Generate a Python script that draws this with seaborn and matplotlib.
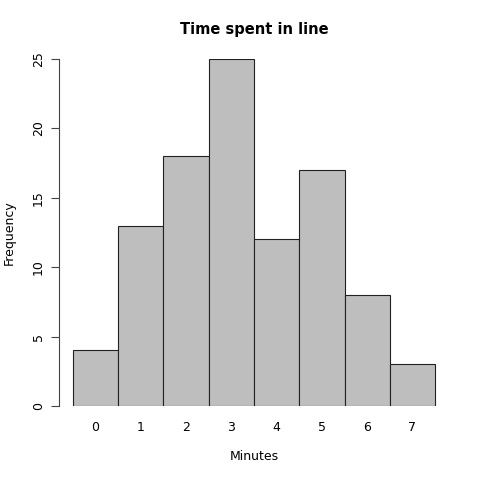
import pandas as pd
import matplotlib
matplotlib.use("Agg")
import matplotlib.pyplot as plt
import seaborn as sns

# histogram counts
minutes = [0, 1, 2, 3, 4, 5, 6, 7]
counts = [4, 13, 18, 25, 12, 17, 8, 3]
y_ticks = [0, 5, 10, 15, 20, 25]

sns.set_style("white")
plt.rcParams['font.family'] = ['DejaVu Sans']
plt.rcParams['text.color'] = 'black'
plt.rcParams['axes.labelcolor'] = 'black'
plt.rcParams['xtick.color'] = 'black'
plt.rcParams['ytick.color'] = 'black'

df = pd.DataFrame({'Minutes': [str(m) for m in minutes], 'Frequency': counts})

fig = plt.figure(figsize=(4.8, 4.8), dpi=100)
ax = fig.add_axes([59 / 480, 1 - 406 / 480, 380 / 480, 347 / 480])

sns.barplot(data=df, x='Minutes', y='Frequency', color='#bebebe', width=1.0,
            edgecolor='#222222', linewidth=0.8, saturation=1, ax=ax)

ax.set_xlim(-0.809, 7.588)
ax.set_ylim(0, 25)
ax.set_yticks(y_ticks)
ax.set_yticklabels([str(t) for t in y_ticks], rotation=90, va='center', fontsize=9)
ax.tick_params(axis='y', length=6, width=0.8, color='#444444', left=True, pad=4)
ax.tick_params(axis='x', length=0, labelsize=9, pad=11)

for s in ['top', 'right', 'bottom']:
    ax.spines[s].set_visible(False)
ax.spines['left'].set_color('#444444')
ax.spines['left'].set_linewidth(0.8)

ax.set_xlabel('Minutes', fontsize=9, labelpad=12)
ax.xaxis.set_label_coords((254 - 59) / 380, -0.128)
ax.set_ylabel('Frequency', fontsize=9, labelpad=12)
ax.set_title('Time spent in line', fontsize=10.5, fontweight='bold', pad=18,
             x=(254 - 59) / 380)

fig.savefig('out.png', dpi=100)
